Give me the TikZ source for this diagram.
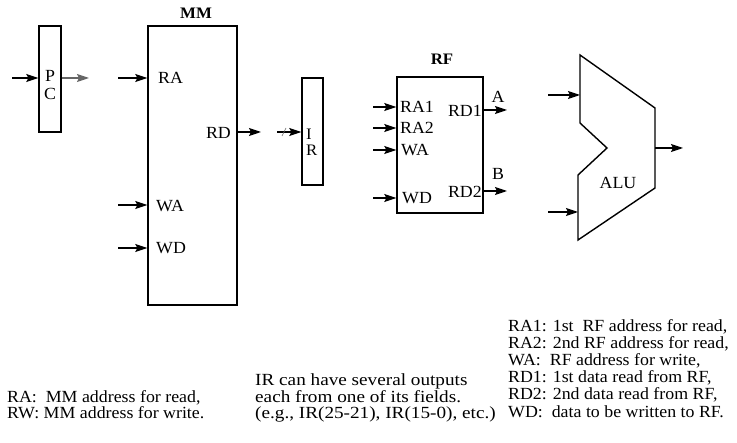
\documentclass[tikz,border=0pt]{standalone}
\usepackage{fontspec}
\setmainfont{Liberation Serif}[FakeStretch=1.05]
\newfontfamily\widefont{Liberation Serif}[FakeStretch=1.13]
\usetikzlibrary{arrows.meta}
\begin{document}
\begin{tikzpicture}[x=1pt,y=-1pt,
  box/.style={draw, line width=1.4pt, inner sep=0pt, fill=white},
  sig/.style={line width=1.2pt, -{Stealth[length=12pt,width=8pt,inset=2pt]}},
  lbl/.style={font=\fontsize{17}{17}\selectfont, inner sep=0pt},
  ttl/.style={font=\bfseries\fontsize{16}{16}\selectfont, inner sep=0pt},
  note/.style={align=left, inner sep=0pt, anchor=north west}]
\useasboundingbox (0,0) rectangle (737,443);

% PC
\node[box, minimum width=22pt, minimum height=106pt] (pc) at (50,79) {};
\node[lbl, align=center, font=\fontsize{17}{18}\selectfont] (pct) at (50,85.5) {P\\C};
\coordinate (pcin) at (12,78);
\coordinate (pcout) at (89,78);
\draw[sig] (pcin) -- (pcin -| pc.west);
\draw[sig, black!60] (pcout -| pc.east) -- (pcout);

% MM
\node[box, minimum width=89pt, minimum height=279pt] (mm) at (192.5,165.5) {};
\node[ttl] (mmt) at (196,13) {MM};
\node[lbl, anchor=west] (mmra) at (158,78) {RA};
\node[lbl, anchor=west] (mmwa) at (156,206) {WA};
\node[lbl, anchor=west] (mmwd) at (156,248) {WD};
\node[lbl, anchor=east] (mmrd) at (231,133) {RD};
\coordinate (mmrain) at (118,78);
\coordinate (mmwain) at (118,205);
\coordinate (mmwdin) at (118,248);
\coordinate (mmrdout) at (261,132);
\draw[sig] (mmrain) -- (mmrain -| mm.west);
\draw[sig] (mmwain) -- (mmwain -| mm.west);
\draw[sig] (mmwdin) -- (mmwdin -| mm.west);
\draw[sig] (mmrdout -| mm.east) -- (mmrdout);

% IR
\node[box, minimum width=21pt, minimum height=107pt] (ir) at (312.5,131.5) {};
\node[lbl, align=left, anchor=west, font=\fontsize{16}{16.5}\selectfont] (irt) at (306,142.5) {I\\R};
\coordinate (irin) at (277,132);
\draw[sig] (irin) -- (irin -| ir.west);
\draw[line width=0.6pt, black!60] (282,136) -- (286,128);

% RF
\node[box, minimum width=86pt, minimum height=136pt] (rf) at (440,145) {};
\node[ttl] (rft) at (442,59) {RF};
\node[lbl, anchor=west] (rfra1) at (400,107) {RA1};
\node[lbl, anchor=west] (rfra2) at (400,128) {RA2};
\node[lbl, anchor=west] (rfwa) at (401,150) {WA};
\node[lbl, anchor=west] (rfwd) at (402,198) {WD};
\node[lbl, anchor=east] (rfrd1) at (482,111) {RD1};
\node[lbl, anchor=east] (rfrd2) at (482,192) {RD2};
\node[lbl] (la) at (498,97) {A};
\node[lbl] (lb) at (498,174) {B};
\coordinate (ra1in) at (373,107);
\coordinate (ra2in) at (373,128);
\coordinate (wain) at (373,150);
\coordinate (wdin) at (373,198);
\coordinate (rd1out) at (507,110);
\coordinate (rd2out) at (507,191);
\draw[sig] (ra1in) -- (ra1in -| rf.west);
\draw[sig] (ra2in) -- (ra2in -| rf.west);
\draw[sig] (wain) -- (wain -| rf.west);
\draw[sig] (wdin) -- (wdin -| rf.west);
\draw[sig] (rd1out -| rf.east) -- (rd1out);
\draw[sig] (rd2out -| rf.east) -- (rd2out);

% ALU
\coordinate (a1) at (580,55);
\coordinate (a2) at (655,108);
\coordinate (a3) at (655,188);
\coordinate (a4) at (578,240);
\coordinate (a5) at (578,175);
\coordinate (a6) at (607,148);
\coordinate (a7) at (580,123);
\draw[line width=1.4pt, line join=miter] (a1) -- (a2) -- (a3) -- (a4) -- (a5) -- (a6) -- (a7) -- cycle;
\node[lbl] (alut) at (618,183) {ALU};
\coordinate (aluin1) at (548,95);
\coordinate (aluin2) at (548,212);
\coordinate (aluout) at (683,148);
\draw[sig] (aluin1) -- (aluin1 -| a1);
\draw[sig] (aluin2) -- (aluin2 -| a4);
\draw[sig] (aluout -| a2) -- (aluout);

% notes
\node[note, font=\fontsize{17}{16.5}\selectfont] (n1) at (7,390) {RA:\ \ MM address for read,\\RW: MM address for write.};
\node[note, font=\widefont\fontsize{17}{16.5}\selectfont] (n2) at (255,374) {IR can have several outputs\\each from one of its fields.\\(e.g., IR(25-21), IR(15-0), etc.)};
\node[note, font=\fontsize{17}{17.2}\selectfont] (n3) at (508,319) {RA1: 1st\ \ RF address for read,\\RA2: 2nd RF address for read,\\WA:\ \ RF address for write,\\RD1: 1st data read from RF,\\RD2: 2nd data read from RF,\\WD:\ \ data to be written to RF.};
\end{tikzpicture}
\end{document}
